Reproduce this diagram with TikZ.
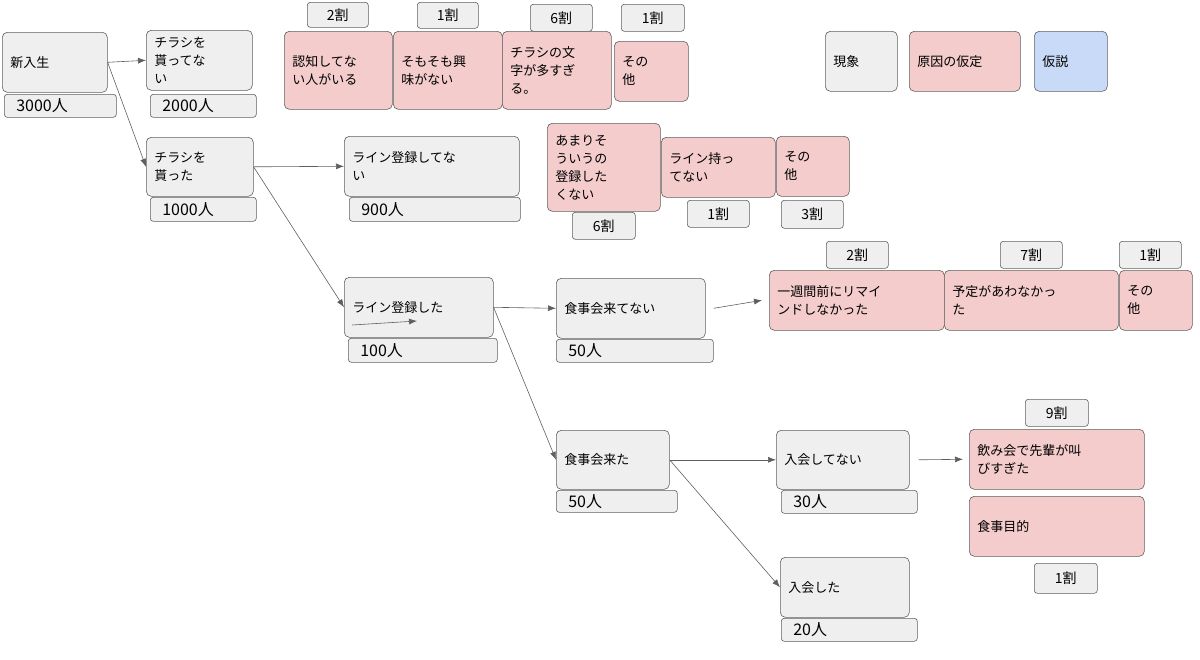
\documentclass[tikz,border=0pt]{standalone}
\usepackage{fontspec}
\setmainfont{Noto Sans CJK JP}
\usetikzlibrary{arrows.meta}
\definecolor{boxgray}{HTML}{EFEFEF}
\definecolor{boxpink}{HTML}{F4CCCC}
\definecolor{boxblue}{HTML}{C9DAF8}
\definecolor{edgegray}{HTML}{5F5F5F}
\tikzset{
  box/.style={draw=edgegray,semithick,rounded corners=5pt,anchor=north west,
              inner xsep=8pt,inner ysep=0pt,align=left,font=\fontsize{13}{18}\selectfont},
  phen/.style={box,fill=boxgray},
  cause/.style={box,fill=boxpink},
  hypo/.style={box,fill=boxblue},
  count/.style={phen,rounded corners=3pt,inner xsep=12pt,font=\fontsize{16}{18}\selectfont},
  ratio/.style={phen,rounded corners=3pt,align=center,inner xsep=0pt,font=\fontsize{14}{16}\selectfont},
  flow/.style={-{Latex[length=8pt,width=6pt]},draw=edgegray,semithick}
}
% name style x y w h text
\newcommand{\bx}[7]{\node[#2,minimum width=#5pt,minimum height=#6pt,text width=#5pt-16pt] (#1) at (#3pt,-#4pt) {#7};}
\newcommand{\rt}[7]{\node[#2,minimum width=#5pt,minimum height=#6pt,text width=#5pt] (#1) at (#3pt,-#4pt) {#7};}
\begin{document}
\begin{tikzpicture}[x=1pt,y=1pt]
  \useasboundingbox (0,0) rectangle (1200,-659);

  % phenomena
  \bx{new}{phen}{2}{32}{105}{60}{新入生}
  \bx{newN}{count}{4}{94}{104}{23}{3000人}
  \bx{nog}{phen}{146}{30}{106}{60}{チラシを\\貰ってな\\い}
  \bx{nogN}{count}{150}{94}{98}{23}{2000人}
  \bx{got}{phen}{146}{137}{107}{59}{チラシを\\貰った}
  \bx{gotN}{count}{150}{197}{98}{24}{1000人}
  \bx{noline}{phen}{344}{136}{175}{60}{ライン登録してな\\い}
  \bx{nolineN}{count}{349}{197}{163}{24}{900人}
  \bx{line}{phen}{344}{277}{149}{60}{ライン登録した}
  \bx{lineN}{count}{348}{338}{141}{24}{100人}
  \bx{nomeal}{phen}{556}{278}{149}{60}{食事会来てない}
  \bx{nomealN}{count}{556}{339}{149}{23}{50人}
  \bx{meal}{phen}{556}{430}{113}{59}{食事会来た}
  \bx{mealN}{count}{556}{490}{113}{22}{50人}
  \bx{nojoin}{phen}{776}{430}{133}{59}{入会してない}
  \bx{nojoinN}{count}{781}{490}{128}{23}{30人}
  \bx{join}{phen}{780}{557}{129}{60}{入会した}
  \bx{joinN}{count}{781}{618}{128}{23}{20人}

  % causes
  \bx{c1}{cause}{284}{31}{108}{78}{認知してな\\い人がいる}
  \bx{c2}{cause}{393}{31}{109}{78}{そもそも興\\味がない}
  \bx{c3}{cause}{502}{31}{109}{78}{チラシの文\\字が多すぎ\\る。}
  \bx{c4}{cause}{614}{41}{74}{60}{その\\他}
  \rt{r1}{ratio}{307}{2}{61}{25}{2割}
  \rt{r2}{ratio}{417}{2}{61}{26}{1割}
  \rt{r3}{ratio}{530}{4}{62}{27}{6割}
  \rt{r4}{ratio}{621}{4}{63}{27}{1割}

  \bx{d1}{cause}{547}{123}{113}{88}{あまりそ\\ういうの\\登録した\\くない}
  \bx{d2}{cause}{661}{137}{114}{60}{ライン持っ\\てない}
  \bx{d3}{cause}{776}{136}{73}{60}{その\\他}
  \rt{s1}{ratio}{572}{212}{63}{27}{6割}
  \rt{s2}{ratio}{687}{200}{62}{27}{1割}
  \rt{s3}{ratio}{781}{200}{62}{28}{3割}

  \bx{e1}{cause}{769}{270}{175}{60}{一週間前にリマイ\\ンドしなかった}
  \bx{e2}{cause}{944}{270}{174}{60}{予定があわなかっ\\た}
  \bx{e3}{cause}{1119}{270}{73}{60}{その\\他}
  \rt{t1}{ratio}{826}{241}{62}{27}{2割}
  \rt{t2}{ratio}{1000}{241}{62}{27}{7割}
  \rt{t3}{ratio}{1119}{241}{62}{27}{1割}

  \bx{f1}{cause}{969}{429}{175}{60}{飲み会で先輩が叫\\びすぎた}
  \bx{f2}{cause}{969}{496}{175}{60}{食事目的}
  \rt{u1}{ratio}{1025}{399}{63}{27}{9割}
  \rt{u2}{ratio}{1034}{563}{63}{30}{1割}

  % legend
  \bx{lg1}{phen}{825}{31}{72}{60}{現象}
  \bx{lg2}{cause}{909}{31}{111}{60}{原因の仮定}
  \bx{lg3}{hypo}{1034}{31}{73}{60}{仮説}

  % connectors
  \draw[flow] (new.east) -- (nog.west);
  \draw[flow] (new.east) -- (got.west);
  \draw[flow] (got.east) -- (noline.west);
  \draw[flow] (got.east) -- (line.west);
  \draw[flow] (line.east) -- (nomeal.west);
  \draw[flow] (line.east) -- (meal.west);
  \coordinate (nm) at ([xshift=8pt]nomeal.east);
  \draw[flow] (nm) -- ([xshift=-7pt]e1.west);
  \draw[flow] (meal.east) -- (nojoin.west);
  \draw[flow] (meal.east) -- (join.west);
  \coordinate (nj) at ([xshift=9pt]nojoin.east);
  \draw[flow] (nj) -- ([xshift=-6pt]f1.west);
  % stray arrow inside box
  \coordinate (sa) at (352,-325);
  \coordinate (sb) at (417,-321);
  \draw[flow] (sa) -- (sb);
\end{tikzpicture}
\end{document}
